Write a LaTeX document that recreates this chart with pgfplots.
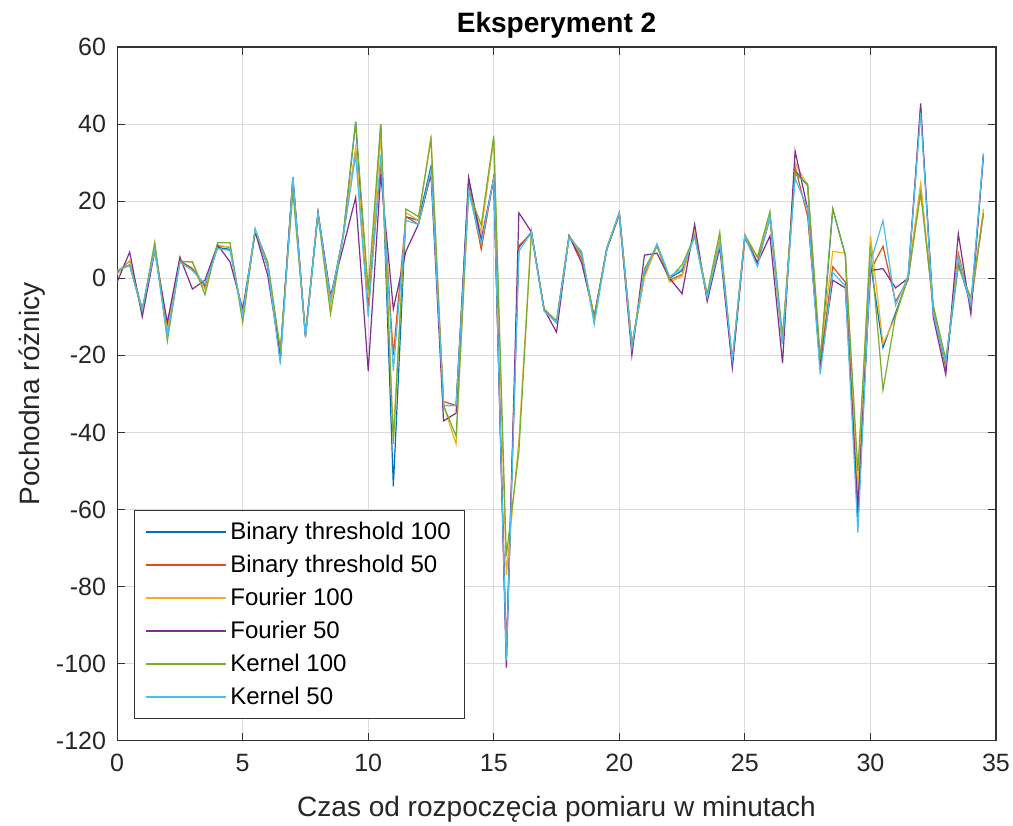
\documentclass[border=0pt]{standalone}
\usepackage{pgfplots}
\pgfplotsset{compat=1.18}
\usepackage{pgfplotstable}
\usepackage{fontspec}
\setmainfont{Liberation Sans}
\definecolor{cB}{rgb}{0,0.447,0.741}
\definecolor{cO}{rgb}{0.85,0.325,0.098}
\definecolor{cY}{rgb}{0.929,0.694,0.125}
\definecolor{cP}{rgb}{0.494,0.184,0.556}
\definecolor{cG}{rgb}{0.466,0.674,0.188}
\definecolor{cC}{rgb}{0.301,0.745,0.933}
\pgfplotstableread{
x B O Y P G C
0 2 1.5 1 -1 2 2
0.5 3.5 4.5 4.6 6.8 3.3 3.5
1 -8.5 -8 -9 -10 -8.5 -8
1.5 8 8 8.5 7 9.4 7.2
2 -15 -13 -13 -11.5 -16.3 -15
2.5 4.5 4.5 4.5 5.5 4.3 4.2
3 2.5 2.5 4.2 -2.8 4.3 2
3.5 -2 -2.5 -3 -0.5 -4.3 -1.5
4 8 8.5 8.5 8.7 9.2 7.7
4.5 7.5 8 8.1 4.2 9.2 7.2
5 -10 -10 -10 -8 -11.5 -9.3
5.5 12.5 12.5 12.5 12 12.5 12.9
6 3 3 3.5 0.7 4.2 2.9
6.5 -21 -20 -20 -20 -18.4 -22.3
7 26 25.5 25 26.3 22.4 26.3
7.5 -15 -15 -15 -15 -14.5 -15.4
8 17 17 17 17 16.5 17
8.5 -5.5 -6 -7 -4.5 -9.3 -5.4
9 11 11 11 8 11 10.5
9.5 40.5 33 34 21 40.7 32
10 -8 -8 -5 -24 -3 -10
10.5 40 30 37 27 40 32
11 -54 -20 -41 -8 -43 -24
11.5 16 16 17 7 18 15
12 15 14 15 14 16 14
12.5 29 28 37 27 36 28
13 -33 -32 -33 -37 -33 -33
13.5 -33 -33 -43 -35 -41 -33
14 26 24 23 26 22.5 22.5
14.5 9 7.5 12 10 13.8 9
15 26 26 36 26 37 26
15.5 -98 -97 -77 -101 -72 -99
16 8 8.5 -42 17 -45 7
16.5 12 11.5 12 12 12 12
17 -8 -8 -8 -8 -8 -8.5
17.5 -11.5 -11.5 -11.5 -14 -11 -11.5
18 11 11 11 11 11 10.5
18.5 6 5 6 4 6.5 7
19 -10.5 -10 -10 -10 -10.5 -12
19.5 7.5 7.5 7.5 7.5 8 7.5
20 17 17 17 16.5 17 17
20.5 -17.5 -17.5 -17.5 -20 -17.5 -18
21 1 0.5 0.3 6 2.4 1.6
21.5 8.5 8.5 8.5 6.5 8.5 9
22 0 -0.5 -1 0 0 0.5
22.5 2 1 0.5 -4 3.5 2.5
23 11 11.5 12 14 11 10.7
23.5 -5 -5 -5 -6 -4 -5
24 10 9.5 10 8 12 9
24.5 -22 -22 -22 -23.2 -21.5 -21
25 11 11 11.5 10.5 11 11
25.5 4 4 5.5 3.9 5.5 3
26 16 15.5 16 11 17.4 16
26.5 -17 -17 -17 -22 -15 -17
27 28 29 30 33 27 26
27.5 24 16 24 18 24.5 18
28 -23 -22 -20 -23 -21 -25
28.5 18 3 7 -0.5 18 1.5
29 6 -1 6.5 -2.5 6 -2
29.5 -63 -58 -55 -60 -50 -66
30 4 2 11 2 8.5 4
30.5 -18 8.3 -17 2.5 -29 15
31 -9 -6 -10 -2.5 -9.7 -7
31.5 0 -0.5 1 0 0 0.5
32 44 24 24.5 45.4 22 43
32.5 -8 -8 -7 -10 -7 -9
33 -23 -23 -22 -25 -21 -22
33.5 4 6.5 5.5 11.6 3 5
34 -7 -7 -6.5 -9.3 -5 -7
34.5 32 17 18 32 16.5 32.4
}\data
\begin{document}
\begin{tikzpicture}
\path[use as bounding box] (-58.5pt,-42.5pt) rectangle (447.5pt,370pt);
\begin{axis}[
  at={(0,0)}, anchor=south west,
  scale only axis, width=439pt, height=346.5pt,
  xmin=0, xmax=35, ymin=-120, ymax=60,
  xtick={0,5,...,35}, ytick={-120,-100,...,60},
  grid=major,
  major grid style={color=black!14, line width=0.5pt},
  axis line style={color=black!80, line width=0.6pt},
  tick style={color=black!80, line width=0.6pt},
  tick align=inside, major tick length=4pt,
  /pgf/number format/assume math mode=true,
  tick label style={font=\fontsize{12.5}{15}\selectfont, color=black!85},
  yticklabel style={xshift=-2pt},
  xticklabel style={yshift=-3pt},
  title={\textbf{Eksperyment 2}},
  title style={at={(axis description cs:0.5,1.0144)}, anchor=center, font=\fontsize{14}{16}\selectfont},
  xlabel={Czas od rozpoczęcia pomiaru w minutach},
  ylabel={Pochodna różnicy},
  xlabel style={at={(axis description cs:0.5,-0.0981)}, anchor=center, font=\fontsize{14}{16}\selectfont, color=black!85},
  ylabel style={at={(axis description cs:-0.0968,0.5)}, anchor=center, font=\fontsize{14}{16}\selectfont, color=black!85},
  legend style={at={(axis description cs:0.0194,0.0317)}, anchor=south west,
    font=\fontsize{12}{14}\selectfont, draw=black!80, line width=0.6pt,
    inner xsep=5pt, inner ysep=3.5pt, row sep=2.3pt, cells={anchor=west}},
  legend image code/.code={\draw[#1, line width=0.75pt] (0pt,0pt) -- (40pt,0pt);},
  every axis plot/.append style={line width=0.6pt},
]
\addplot[cB] table[x=x,y=B] {\data};
\addplot[cO] table[x=x,y=O] {\data};
\addplot[cY] table[x=x,y=Y] {\data};
\addplot[cP] table[x=x,y=P] {\data};
\addplot[cG] table[x=x,y=G] {\data};
\addplot[cC] table[x=x,y=C] {\data};
\legend{Binary threshold 100, Binary threshold 50, Fourier 100, Fourier 50, Kernel 100, Kernel 50}
\end{axis}
\end{tikzpicture}
\end{document}
